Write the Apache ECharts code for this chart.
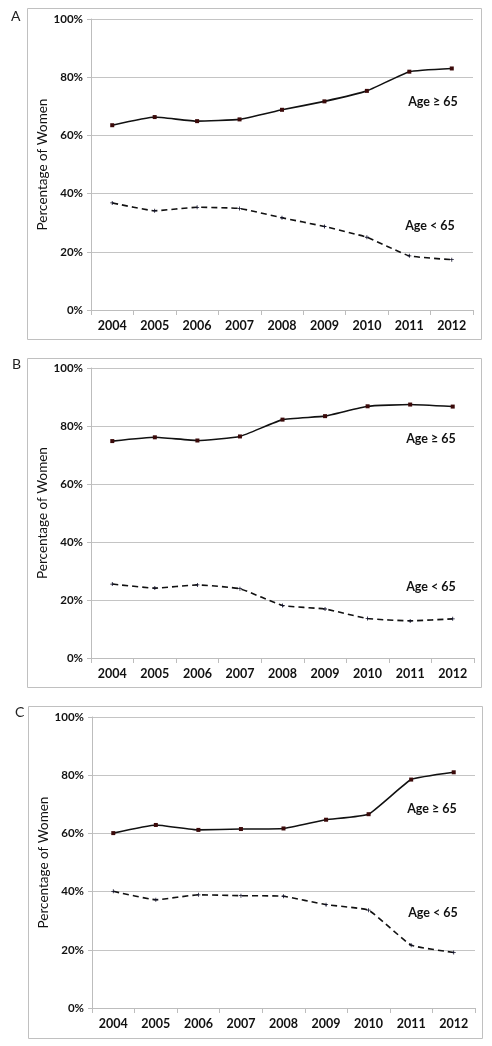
<!DOCTYPE html>
<html>
<head>
<meta charset="utf-8">
<script src="https://cdn.jsdelivr.net/npm/echarts@6/dist/echarts.min.js"></script>
<style>
html,body{margin:0;padding:0;background:#fff;}
#chart{width:492px;height:1046px;}
</style>
</head>
<body>
<div id="chart"></div>
<script>
const years = ['2004','2005','2006','2007','2008','2009','2010','2011','2012'];
const yTicks = [0, 20, 40, 60, 80, 100];
const panelLetters = ['A', 'B', 'C'];
const labelOld = 'Age \u2265 65';
const labelYoung = 'Age < 65';
const yAxisTitle = 'Percentage of Women';

// Panel A
const aOld   = [63.5, 66.3, 64.9, 65.5, 68.8, 71.7, 75.3, 81.9, 83.0];
const aYoung = [36.8, 34.1, 35.3, 34.9, 31.7, 28.7, 25.0, 18.6, 17.3];
// Panel B
const bOld   = [74.8, 76.1, 75.0, 76.4, 82.2, 83.4, 86.8, 87.4, 86.7];
const bYoung = [25.5, 24.1, 25.2, 23.9, 18.1, 16.9, 13.6, 12.8, 13.5];
// Panel C
const cOld   = [60.1, 62.9, 61.2, 61.5, 61.7, 64.7, 66.6, 78.5, 81.0];
const cYoung = [40.1, 37.2, 38.9, 38.6, 38.4, 35.5, 33.6, 21.6, 19.1];

const panels = [
  {old: aOld, young: aYoung},
  {old: bOld, young: bYoung},
  {old: cOld, young: cYoung}
];

// layout (pixels)
const grids = [
  {left: 91, top: 19, width: 382, height: 291},
  {left: 91, top: 368, width: 383, height: 290},
  {left: 92, top: 717, width: 383, height: 291}
];
const boxes = [
  {x: 27, y: 8, w: 454, h: 331},
  {x: 27, y: 358, w: 454, h: 329},
  {x: 28, y: 706, w: 454, h: 332}
];
const letterPos = [[11, 9], [12, 357], [15, 705]];
const oldLabelPos = [[433, 102], [431, 439], [432, 809]];
const youngLabelPos = [[430, 226], [431, 587], [433, 913]];
const titleX = [43, 43, 44];

const FONT = 'Lato, "Open Sans", sans-serif';
const gridColor = '#c4c4c4';
const plusPath = 'path://M2,0h1v2h2v1h-2v2h-1v-2h-2v-1h2z';

const option = {
  animation: false,
  backgroundColor: '#ffffff',
  grid: grids.map(g => Object.assign({containLabel: false}, g)),
  xAxis: grids.map((g, i) => ({
    type: 'category', gridIndex: i, data: years, boundaryGap: true,
    axisLine: {show: true, lineStyle: {color: '#bdbdbd', width: 1}},
    axisTick: {show: true, length: 5, lineStyle: {color: '#bdbdbd'}},
    axisLabel: {color: '#111', fontFamily: FONT, fontWeight: 'bold', fontSize: 12.5, margin: 9},
    splitLine: {show: false}
  })),
  yAxis: grids.map((g, i) => ({
    type: 'value', gridIndex: i, min: yTicks[0], max: yTicks[yTicks.length - 1], interval: 20,
    axisLine: {show: true, lineStyle: {color: '#bdbdbd', width: 1}},
    axisTick: {show: true, length: 4, lineStyle: {color: '#bdbdbd'}},
    axisLabel: {color: '#111', fontFamily: FONT, fontWeight: 'bold', fontSize: 11.5, margin: 8,
      formatter: v => v + '%'},
    splitLine: {show: true, lineStyle: {color: gridColor, width: 1}}
  })),
  series: [],
  graphic: []
};

panels.forEach((p, i) => {
  option.series.push({
    type: 'line', xAxisIndex: i, yAxisIndex: i, data: p.old, smooth: 0.12,
    symbol: 'rect', symbolSize: 4, showSymbol: true,
    lineStyle: {color: '#111111', width: 1.6, type: 'solid'},
    itemStyle: {color: '#3b0a0a'}
  });
  option.series.push({
    type: 'line', xAxisIndex: i, yAxisIndex: i, data: p.young, smooth: 0.12,
    symbol: plusPath, symbolSize: 4, showSymbol: true,
    lineStyle: {color: '#111111', width: 1.6, type: [6, 4]},
    itemStyle: {color: '#101028'}
  });
  const b = boxes[i];
  const g = grids[i];
  option.graphic.push({
    type: 'rect', shape: {x: b.x + 0.5, y: b.y + 0.5, width: b.w, height: b.h},
    style: {fill: 'none', stroke: '#c0c0c0', lineWidth: 1}, silent: true, z: -1
  });
  option.graphic.push({
    type: 'text', left: letterPos[i][0], top: letterPos[i][1],
    style: {text: panelLetters[i], font: '14px ' + FONT, fill: '#222'}
  });
  option.graphic.push({
    type: 'text', x: titleX[i], y: g.top + g.height / 2, rotation: Math.PI / 2,
    style: {text: yAxisTitle, font: '13.5px ' + FONT, fill: '#111', align: 'center', verticalAlign: 'middle'}
  });
  option.graphic.push({
    type: 'text', x: oldLabelPos[i][0], y: oldLabelPos[i][1],
    style: {text: labelOld, font: 'bold 12.5px ' + FONT, fill: '#111', align: 'center', verticalAlign: 'middle'}
  });
  option.graphic.push({
    type: 'text', x: youngLabelPos[i][0], y: youngLabelPos[i][1],
    style: {text: labelYoung, font: 'bold 12.5px ' + FONT, fill: '#111', align: 'center', verticalAlign: 'middle'}
  });
});

const chart = echarts.init(document.getElementById('chart'), null, {renderer: 'canvas'});
chart.setOption(option);
</script>
</body>
</html>
